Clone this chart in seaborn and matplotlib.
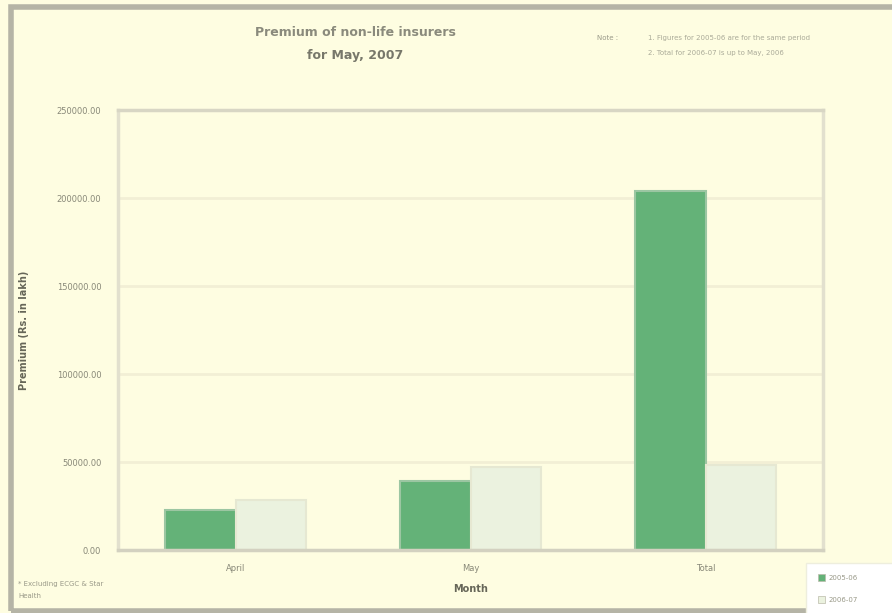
import numpy as np
import pandas as pd
import seaborn as sns
import matplotlib.pyplot as plt
from matplotlib.patches import Rectangle

# données
mois = ["April", "May", "Total"]
annees = ["2005-06", "2006-07"]
prime_0506 = [22700, 39200, 204000]
prime_0607 = [28400, 47200, 48300]
ticks_y = [0, 50000, 100000, 150000, 200000, 250000]

data = pd.DataFrame({
    "Month": mois * 2,
    "Year": [annees[0]] * 3 + [annees[1]] * 3,
    "Premium": prime_0506 + prime_0607,
})

fond = "#FEFDE1"
vert = "#64B278"
clair = "#EBF2DF"

sns.set_theme(style="white")
plt.rcParams['font.family'] = ['DejaVu Sans']

fig = plt.figure(figsize=(8.92, 6.13), dpi=100, facecolor=fond)
ax = fig.add_axes([118 / 892, 63 / 613, 705 / 892, 440 / 613], facecolor=fond)

sns.barplot(data=data, x="Month", y="Premium", hue="Year",
            palette=[vert, clair], width=0.6, ax=ax, legend=False,
            linewidth=1.5, saturation=1)
for p in ax.patches:
    if p.get_facecolor()[1] < 0.8:
        p.set_edgecolor("#9CC6A2")
    else:
        p.set_edgecolor("#E6E8D2")

ax.set_xlim(-0.5, 2.5)
ax.set_ylim(0, 250000)
ax.set_yticks(ticks_y)
ax.set_yticklabels([f"{v:.2f}" for v in ticks_y], fontsize=6, color="#888878")
ax.tick_params(axis="x", labelsize=6, colors="#888878", length=0, pad=10)
ax.tick_params(axis="y", length=0, pad=12)
ax.yaxis.grid(True, color="#F2EFD5", linewidth=2)
ax.set_axisbelow(True)
for s in ax.spines.values():
    s.set_color("#E2E0CE")
    s.set_linewidth(2.5)
ax.spines["bottom"].set_color("#D3D1C0")
ax.spines["top"].set_color("#D8D6C4")

ax.set_xlabel("Month", fontsize=7, fontweight="bold", color="#666658", labelpad=8)
ax.set_ylabel("Premium (Rs. in lakh)", fontsize=7, fontweight="bold", color="#666658", labelpad=20)

# titre et notes
fig.text(355 / 892, 1 - 32 / 613, "Premium of non-life insurers", ha="center", va="center",
         fontsize=9, fontweight="bold", color="#8A8A7C")
fig.text(355 / 892, 1 - 56 / 613, "for May, 2007", ha="center", va="center",
         fontsize=9, fontweight="bold", color="#77776A")
fig.text(597 / 892, 1 - 38 / 613, "Note :", fontsize=5, color="#999988", va="center")
fig.text(648 / 892, 1 - 38 / 613, "1. Figures for 2005-06 are for the same period",
         fontsize=5, color="#AAAA98", va="center")
fig.text(648 / 892, 1 - 53 / 613, "2. Total for 2006-07 is up to May, 2006",
         fontsize=5, color="#AAAA98", va="center")
fig.text(18 / 892, 1 - 584 / 613, "* Excluding ECGC & Star", fontsize=5, color="#999988", va="center")
fig.text(18 / 892, 1 - 596 / 613, "Health", fontsize=5, color="#999988", va="center")

# cadre de la figure (gauche, haut, bas)
fig.patches.append(Rectangle((11 / 892, 2 / 613), 900 / 892, 604 / 613, transform=fig.transFigure,
                             fill=False, edgecolor="#B5B4A6", linewidth=4))

# légende en bas à droite
fig.patches.append(Rectangle((806 / 892, -0.01), 100 / 892, 50 / 613 + 0.01, transform=fig.transFigure,
                             facecolor="white", edgecolor="#EEEEDD", linewidth=1))
for i, (lab, c) in enumerate(zip(annees, [vert, clair])):
    y = 1 - (578 + i * 22) / 613
    fig.patches.append(Rectangle((818 / 892, y - 3 / 613), 7 / 892, 7 / 613,
                                 transform=fig.transFigure, facecolor=c, edgecolor="#BBBBAA", linewidth=0.5))
    fig.text(829 / 892, y, lab, fontsize=5, color="#999988", va="center")

plt.savefig("out.png", dpi=100, facecolor=fond)
